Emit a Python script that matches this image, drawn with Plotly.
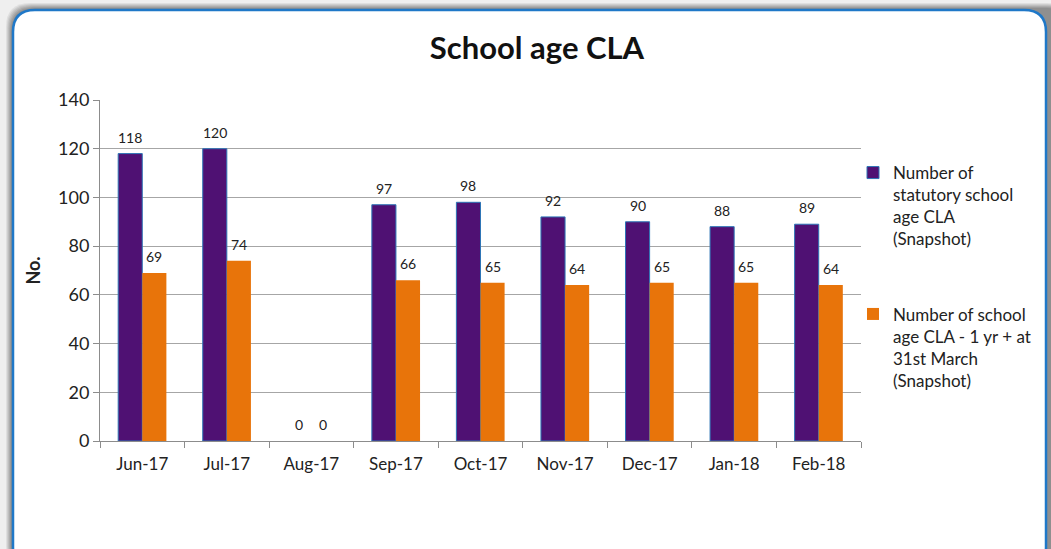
import plotly.graph_objects as go

# Monthly snapshot figures
months = ["Jun-17", "Jul-17", "Aug-17", "Sep-17", "Oct-17", "Nov-17", "Dec-17", "Jan-18", "Feb-18"]
statutory_school_age = [118, 120, 0, 97, 98, 92, 90, 88, 89]
school_age_1yr_plus = [69, 74, 0, 66, 65, 64, 65, 65, 64]

series_names = [
    "Number of<br>statutory school<br>age CLA<br>(Snapshot)",
    "Number of school<br>age CLA - 1 yr + at<br>31st March<br>(Snapshot)",
]
y_ticks = [0, 20, 40, 60, 80, 100, 120, 140]

W, H = 1051, 549
ML, MR, MT, MB = 100, 190, 100, 108
PW, PH = W - ML - MR, H - MT - MB

FONT = "Lato, 'Open Sans', Arial, sans-serif"
PURPLE = "#4F1173"
ORANGE = "#E8740A"
BARGAP = 0.43


def px(x):
    return (x - ML) / PW


def py(y):
    return (H - MB - y) / PH


def rounded_rect(x0, y0, x1, y1, r):
    rx, ry = r / PW, r / PH
    a, b, c, d = px(x0), py(y0), px(x1), py(y1)
    return (
        f"M {a + rx},{b} L {c - rx},{b} Q {c},{b} {c},{b - ry} "
        f"L {c},{d + ry} Q {c},{d} {c - rx},{d} "
        f"L {a + rx},{d} Q {a},{d} {a},{d + ry} "
        f"L {a},{b - ry} Q {a},{b} {a + rx},{b} Z"
    )


fig = go.Figure()
fig.add_trace(go.Bar(
    x=months, y=statutory_school_age, name=series_names[0],
    marker=dict(color=PURPLE,
                line=dict(color="#2E75B6", width=[1 if v else 0 for v in statutory_school_age])),
    legendgroup="a",
))
fig.add_trace(go.Bar(
    x=months, y=school_age_1yr_plus, name=series_names[1],
    marker=dict(color=ORANGE, line=dict(width=0)),
    legendgroup="b",
))

# Value labels sitting a little above each bar
bar_px = PW / len(months) * (1 - BARGAP) / 2
annotations = []
for values, shift in ((statutory_school_age, -bar_px / 2), (school_age_1yr_plus, bar_px / 2)):
    for m, v in zip(months, values):
        annotations.append(dict(
            x=m, y=v, xref="x", yref="y", text=str(v), showarrow=False,
            xshift=shift, yshift=6, yanchor="bottom", xanchor="center",
            font=dict(size=14, color="#222222", family=FONT),
        ))

# Card frame with a soft drop shadow
shapes = []
for i, op in enumerate([0.10, 0.12, 0.14, 0.16, 0.18, 0.2]):
    off = 7 - i
    shapes.append(dict(
        type="path", xref="paper", yref="paper", layer="below",
        path=rounded_rect(13 - off, 10 - off, W + 20, H + 20, 24),
        fillcolor=f"rgba(90,90,90,{op})", line=dict(width=0),
    ))
shapes.append(dict(
    type="path", xref="paper", yref="paper", layer="below",
    path=rounded_rect(13, 10, 1046, H + 20, 22),
    fillcolor="white", line=dict(color="#1F78C8", width=2.5),
))

fig.update_layout(
    width=W, height=H,
    margin=dict(l=ML, r=MR, t=MT, b=MB, autoexpand=False),
    paper_bgcolor="#EFEFEF", plot_bgcolor="rgba(0,0,0,0)",
    font=dict(family=FONT, size=17, color="#222222"),
    title=dict(text="<b>School age CLA</b>", x=537 / W, xanchor="center",
               y=1 - 48 / H, yanchor="middle",
               font=dict(size=31, family=FONT, color="#111111")),
    barmode="group", bargap=BARGAP, bargroupgap=0,
    showlegend=True,
    legend=dict(xref="container", yref="container",
                x=853 / W, y=1 - 155 / H, xanchor="left", yanchor="top",
                traceorder="grouped", tracegroupgap=50, valign="top",
                font=dict(size=17, family=FONT, color="#222222"),
                bgcolor="rgba(0,0,0,0)", itemwidth=30),
    shapes=shapes,
    annotations=annotations,
    xaxis=dict(
        showgrid=False, showline=True, linecolor="#8C8C8C", linewidth=1,
        ticks="outside", tickson="boundaries", ticklen=6, tickcolor="#8C8C8C",
        tickfont=dict(size=17), ticklabelstandoff=8,
    ),
    yaxis=dict(
        range=[0, 140], tickvals=y_ticks, showgrid=True, gridcolor="#A6A6A6",
        gridwidth=1, showline=True, linecolor="#8C8C8C", linewidth=1,
        ticks="outside", ticklen=6, tickcolor="#8C8C8C", tickfont=dict(size=18),
        zeroline=False,
        title=dict(text="<b>No.</b>", font=dict(size=18), standoff=12),
    ),
)

fig.write_html("out.html")
